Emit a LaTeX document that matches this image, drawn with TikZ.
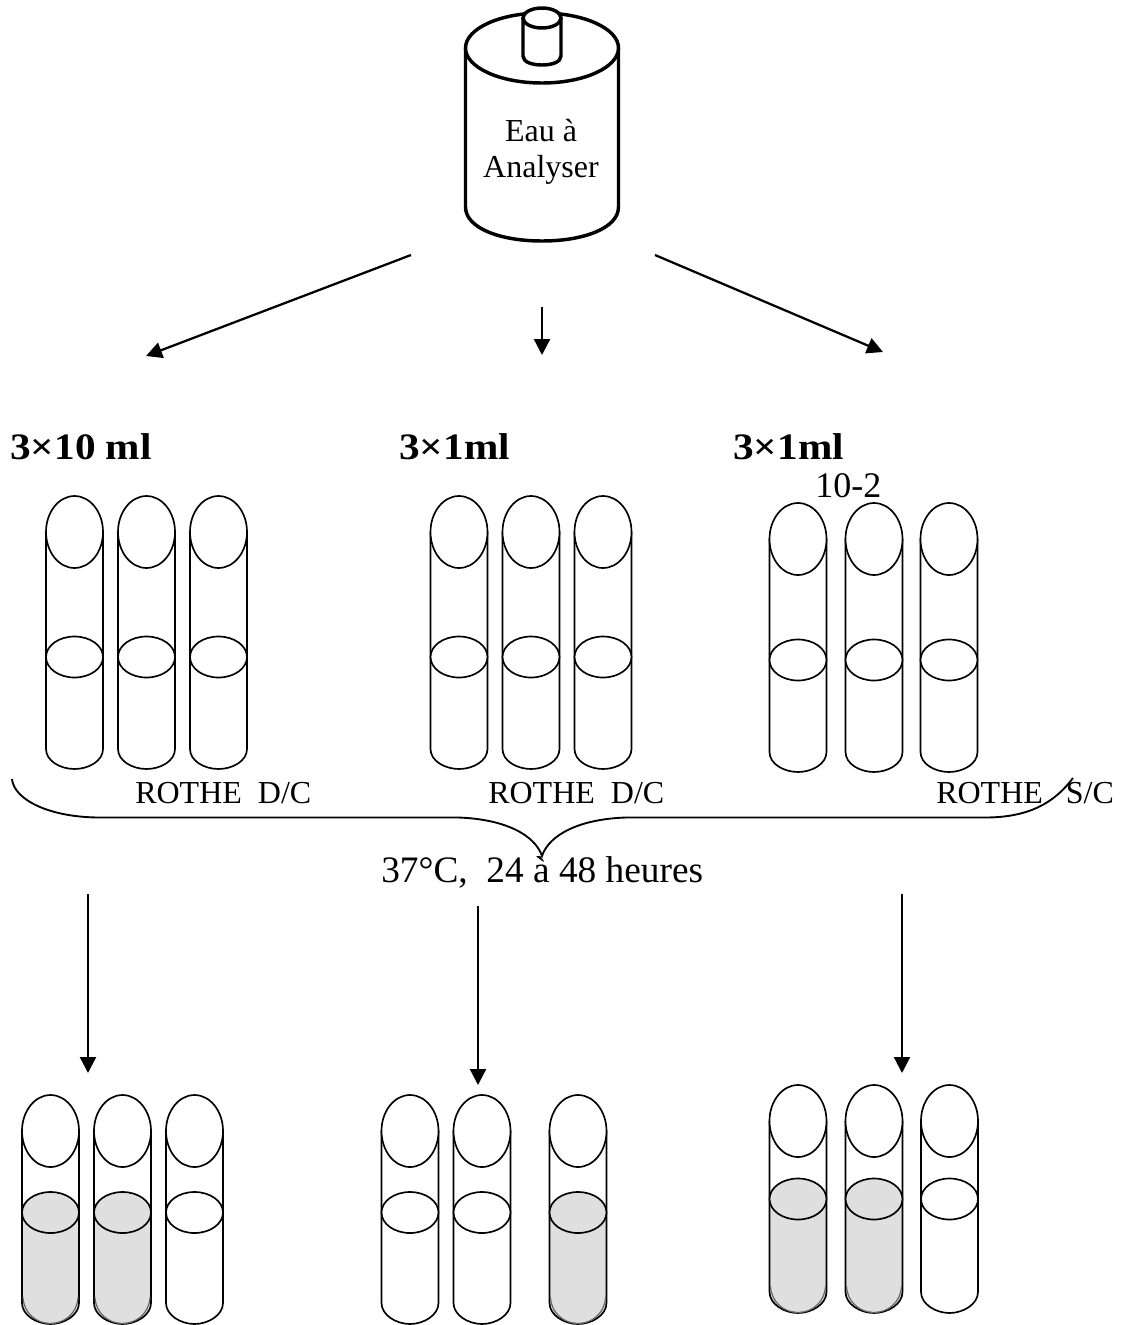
\documentclass[tikz,border=0pt]{standalone}
\usepackage{fontspec}
\setmainfont{Liberation Serif}
\newfontfamily\volfont[FakeStretch=1.105]{Liberation Serif}
\usetikzlibrary{arrows.meta}
\definecolor{liquid}{HTML}{DFDFDF}
\tikzset{
  x=0.75pt,y=-0.75pt,
  tubeline/.style={draw=black,line width=1.25pt},
  bottleline/.style={draw=black,line width=2.6pt},
  flow/.style={draw=black,line width=1.7pt,-{Stealth[length=12pt,width=12pt,inset=0pt]}},
  brace/.style={draw=black,line width=1.4pt},
  lab/.style={inner sep=0pt,font=\fontsize{24}{28}\selectfont},
  vol/.style={inner sep=0pt,anchor=base west,font=\fontsize{28}{30}\selectfont\volfont\bfseries},
}
% cx, top-ellipse centre, mid-ellipse centre, end of straight part, bottom, liquid colour
\newcommand\tubeshape[6]{%
  \fill[white] (#1-28.5,#2) -- (#1-28.5,#4) .. controls (#1-28.5,#4+12) and (#1-14,#5) .. (#1,#5)
     .. controls (#1+14,#5) and (#1+28.5,#4+12) .. (#1+28.5,#4) -- (#1+28.5,#2) -- cycle;
  \fill[#6] (#1-28.5,#3) -- (#1-28.5,#4) .. controls (#1-28.5,#4+12) and (#1-14,#5) .. (#1,#5)
     .. controls (#1+14,#5) and (#1+28.5,#4+12) .. (#1+28.5,#4) -- (#1+28.5,#3) -- cycle;
  \draw[tubeline] (#1-28.5,#2) -- (#1-28.5,#4) .. controls (#1-28.5,#4+12) and (#1-14,#5) .. (#1,#5)
     .. controls (#1+14,#5) and (#1+28.5,#4+12) .. (#1+28.5,#4) -- (#1+28.5,#2);
  \draw[tubeline,fill=white] (#1,#2) ellipse [x radius=28.5,y radius=36];
  \draw[tubeline,fill=#6] (#1,#3) ellipse [x radius=28.5,y radius=20.5];
}
% inner grey edge at the base of a filled tube: cx, end of straight part, bottom
\newcommand\liquidedge[3]{%
  \draw[draw=black!60,line width=0.9pt] (#1-27.5,#2-6) .. controls (#1-27,#2+10) and (#1-14,#3-0.5) .. (#1,#3-0.5)
     .. controls (#1+14,#3-0.5) and (#1+27,#2+10) .. (#1+27.5,#2-6);
}
\begin{document}
\begin{tikzpicture}
\useasboundingbox (0,0) rectangle (1124,1325);
\fill[white] (0,0) rectangle (1124,1325);
% bottle
\draw[bottleline,fill=white] (465.5,48) -- (465.5,207) .. controls (465.5,228) and (500,241) .. (542,241)
   .. controls (584,241) and (618.5,228) .. (618.5,207) -- (618.5,48);
\draw[bottleline,fill=white] (542,48) ellipse [x radius=76.5,y radius=35];
\draw[bottleline,fill=white] (523,18) -- (523,56) .. controls (523,62) and (532,65) .. (542,65)
   .. controls (552,65) and (561,62) .. (561,56) -- (561,18);
\draw[bottleline,fill=white] (542,18) ellipse [x radius=19,y radius=10];
\node[lab,align=center] (bottle) at (541,152) {Eau à\\[-1pt]Analyser};
% arrow ends
\coordinate (a1s) at (411,255); \coordinate (a1e) at (146,356);
\coordinate (a2s) at (542,307); \coordinate (a2e) at (542,355);
\coordinate (a3s) at (655,255); \coordinate (a3e) at (883,352);
\coordinate (b1s) at (88,894);  \coordinate (b1e) at (88,1073);
\coordinate (b2s) at (478,906); \coordinate (b2e) at (478,1085);
\coordinate (b3s) at (902,894); \coordinate (b3e) at (902,1073);
\foreach \s/\e in {a1s/a1e,a2s/a2e,a3s/a3e,b1s/b1e,b2s/b2e,b3s/b3e}
  {\draw[flow] (\s) -- (\e);}
% volume labels
\node[vol] (v1) at (10,459) {3×10 ml};
\node[vol] (v2) at (399,459) {3×1ml};
\node[vol] (v3) at (733,459) {3×1ml};
\node[inner sep=0pt,anchor=base west,font=\fontsize{27}{30}\selectfont] (dil) at (815,497) {10-2};
% tubes row 1
\foreach \c in {74.5,146.5,218.5,459,531,603} {\tubeshape{\c}{532}{657}{749}{769}{white}}
\foreach \c in {798,874,949} {\tubeshape{\c}{539}{660}{752}{772}{white}}
% brace
\draw[brace] (12,779) .. controls (14,800) and (50,817.5) .. (100,817.5) -- (458,817.5)
   .. controls (505,819) and (535,835) .. (542,856)
   .. controls (549,835) and (579,819) .. (626,817.5) -- (985,817.5)
   .. controls (1030,817.5) and (1055,802) .. (1073,778);
\node[lab,anchor=base west] (r1) at (135,803) {ROTHE\ \ D/C};
\node[lab,anchor=base west] (r2) at (488,803) {ROTHE\ \ D/C};
\node[lab,anchor=base west] (r3) at (936,803) {ROTHE\ \ \hspace{5.25pt}S/C};
\node[inner sep=0pt,anchor=base west,font=\fontsize{28}{32}\selectfont] (inc) at (381,882) {37°C,\ \ 24 à 48 heures};
% result tubes
\foreach \c/\f in {50.5/liquid,122.5/liquid,194.5/white,410/white,482/white,578/liquid}
  {\tubeshape{\c}{1131}{1212.5}{1303}{1324}{\f}}
\foreach \c/\f in {798/liquid,874/liquid,949.5/white}
  {\tubeshape{\c}{1121}{1199}{1292}{1313}{\f}}
\foreach \c in {50.5,122.5,578} {\liquidedge{\c}{1303}{1324}}
\foreach \c in {798,874} {\liquidedge{\c}{1292}{1313}}
\end{tikzpicture}
\end{document}
